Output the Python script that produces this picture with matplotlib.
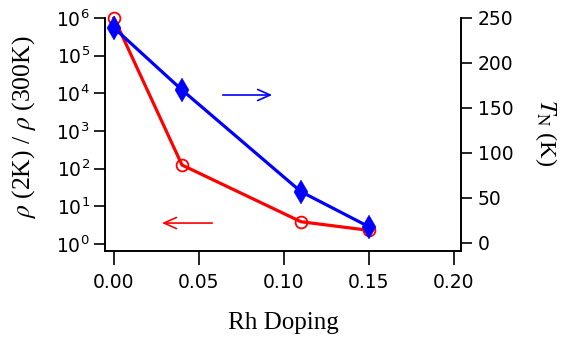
import matplotlib
matplotlib.use('Agg')
import matplotlib.pyplot as plt
from matplotlib.ticker import NullLocator

doping = [0.0, 0.04, 0.11, 0.15]
rho_ratio = [1.0e6, 125, 3.9, 2.3]
t_neel = [239, 170, 57, 18]

x_ticks = [0.00, 0.05, 0.10, 0.15, 0.20]
left_ticks = [1e0, 1e1, 1e2, 1e3, 1e4, 1e5, 1e6]
right_ticks = [0, 50, 100, 150, 200, 250]

red = '#ff0000'
blue = '#0000ff'

fig = plt.figure(figsize=(5.61, 3.37), dpi=100)
ax = fig.add_axes([105/561, 1 - 251/337, 356/561, 233/337])
ax2 = ax.twinx()

ax.plot(doping, rho_ratio, '-', color=red, lw=2.3, marker='o', ms=8.5,
        mfc='none', mec=red, mew=1.3, clip_on=False, zorder=3)
ax2.plot(doping, t_neel, '-', color=blue, lw=2.3, marker='d', ms=12.5,
         mfc=blue, mec=blue, mew=0.3, clip_on=False, zorder=3)

ax.set_yscale('log')
ax.set_xlim(-0.00529, 0.20412)
ax.set_ylim(10**-0.186, 1e6)
ax2.set_ylim(-8.9, 250)
ax.set_xticks(x_ticks)
ax.set_xticklabels(['%.2f' % v for v in x_ticks])
ax.set_yticks(left_ticks)
ax.yaxis.set_minor_locator(NullLocator())
ax2.set_yticks(right_ticks)

for a in (ax, ax2):
    a.spines['top'].set_visible(False)
    for s in ('left', 'right', 'bottom'):
        a.spines[s].set_linewidth(1.2)
ax.tick_params(axis='both', direction='out', length=8, width=1.2,
               labelsize=13.5, pad=3)
ax.tick_params(axis='x', length=10, pad=6)
ax2.tick_params(axis='y', direction='out', length=8, width=1.2,
                labelsize=13.5, pad=4)

ax.set_xlabel('Rh Doping', family='Liberation Serif', fontsize=18,
              labelpad=14)
ax.set_ylabel(r'$\rho$ (2K) / $\rho$ (300K)', family='Liberation Serif',
              math_fontfamily='stix', fontsize=18.5)
ax.yaxis.set_label_coords(-0.188, 0.53)
ax2.set_ylabel(r'$T_{\rm N}$ (K)', family='Liberation Serif',
               math_fontfamily='stix', fontsize=17.5, rotation=270)
ax2.yaxis.set_label_coords(1.275, 0.506)

# direction arrows
ax.annotate('', xy=(0.4775, 0.6695), xytext=(0.323, 0.6695),
            xycoords='axes fraction',
            arrowprops=dict(arrowstyle='->,head_length=0.9,head_width=0.4',
                            color=blue, lw=1.2))
ax.annotate('', xy=(0.152, 0.120), xytext=(0.309, 0.120),
            xycoords='axes fraction',
            arrowprops=dict(arrowstyle='->,head_length=0.9,head_width=0.4',
                            color=red, lw=1.2))

fig.savefig('out.png', dpi=100)
